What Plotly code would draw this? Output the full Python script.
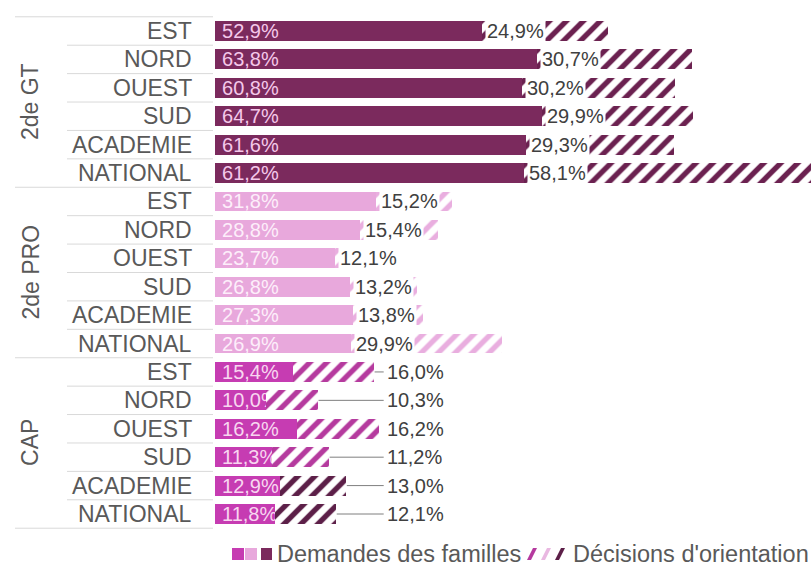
import plotly.graph_objects as go

# ---------------- data ----------------
groups = ["2de GT", "2de PRO", "CAP"]
names = ["EST", "NORD", "OUEST", "SUD", "ACADEMIE", "NATIONAL"]
demandes_gt = [52.9, 63.8, 60.8, 64.7, 61.6, 61.2]
decisions_gt = [24.9, 30.7, 30.2, 29.9, 29.3, 58.1]
demandes_pro = [31.8, 28.8, 23.7, 26.8, 27.3, 26.9]
decisions_pro = [15.2, 15.4, 12.1, 13.2, 13.8, 29.9]
demandes_cap = [15.4, 10.0, 16.2, 11.3, 12.9, 11.8]
decisions_cap = [16.0, 10.3, 16.2, 11.2, 13.0, 12.1]
legend_labels = ["Demandes des familles", "Décisions d'orientation"]

# ---------------- styling ----------------
W, H = 811, 577
ML, MR, MT, MB = 215, 0, 16, 48
PW, PH = W - ML - MR, H - MT - MB
XMAX = 118.0
FONT = "Liberation Sans, Arial, sans-serif"
GREY = "#595959"
LABEL_GREY = "#404040"
LINE = "#d9d9d9"

solid_col = {"2de GT": "#7b2a5d", "2de PRO": "#e8a8dc", "CAP": "#c63cb2"}
solid_txt = {"2de GT": "#f5c8ea", "2de PRO": "#fdeefa", "CAP": "#f8d6f0"}
hatch_gt = "#6b2150"
hatch_pro = "#e9aedf"
hatch_cap_a = "#b53a9e"
hatch_cap_b = "#5c1f48"

dem = {"2de GT": demandes_gt, "2de PRO": demandes_pro, "CAP": demandes_cap}
dec = {"2de GT": decisions_gt, "2de PRO": decisions_pro, "CAP": decisions_cap}

ycats, dvals, cvals, scol, stxt, hcol = [], [], [], [], [], []
for g in groups:
    for i, n in enumerate(names):
        ycats.append(f"{g}|{n}")
        dvals.append(dem[g][i])
        cvals.append(dec[g][i])
        scol.append(solid_col[g])
        stxt.append(solid_txt[g])
        if g == "2de GT":
            hcol.append(hatch_gt)
        elif g == "2de PRO":
            hcol.append(hatch_pro)
        else:
            hcol.append(hatch_cap_a if n not in ("ACADEMIE", "NATIONAL") else hatch_cap_b)


def fmt(v):
    return f"{v:.1f}%".replace(".", ",")


fig = go.Figure()
fig.add_trace(go.Bar(
    y=ycats, x=dvals, orientation="h", name=legend_labels[0],
    marker=dict(color=scol, line=dict(width=0)),
    text=["\u2009" + fmt(v) for v in dvals], textposition="inside", insidetextanchor="start",
    textangle=0, constraintext="none",
    textfont=dict(family=FONT, size=20, color=stxt),
    cliponaxis=False, hoverinfo="skip",
))
fig.add_trace(go.Bar(
    y=ycats, x=cvals, orientation="h", name=legend_labels[1],
    marker=dict(color="white", line=dict(width=0),
                pattern=dict(shape="/", fgcolor=hcol, bgcolor="white", fgopacity=1,
                             size=12, solidity=0.45, fillmode="replace")),
    hoverinfo="skip",
))

ann, shp = [], []


def px2paper_x(px):
    return (px - ML) / PW


def px2paper_y(py):
    return (H - MB - py) / PH


# value labels for the decisions
cap_totals = [d + c for d, c in zip(demandes_cap, decisions_cap)]
cap_lab_x = max(cap_totals) + 1.2
for k, yc in enumerate(ycats):
    g = yc.split("|")[0]
    if g in ("2de GT", "2de PRO"):
        ann.append(dict(x=dvals[k], y=yc, xref="x", yref="y", text=fmt(cvals[k]),
                        xanchor="left", yanchor="middle", xshift=3, showarrow=False,
                        bgcolor="white", borderpad=1,
                        font=dict(family=FONT, size=20, color=LABEL_GREY)))
    else:
        tot = dvals[k] + cvals[k]
        ann.append(dict(x=cap_lab_x, y=yc, xref="x", yref="y", text=fmt(cvals[k]),
                        xanchor="left", yanchor="middle", showarrow=False,
                        font=dict(family=FONT, size=20, color=LABEL_GREY)))
        if cap_lab_x - tot > 1.5:
            shp.append(dict(type="line", xref="x", yref="y", x0=tot + 0.2, x1=cap_lab_x - 0.2,
                            y0=k, y1=k, line=dict(color="#7f7f7f", width=1)))

# category labels
for k, yc in enumerate(ycats):
    n = yc.split("|")[1]
    ann.append(dict(x=px2paper_x(194), y=yc, xref="paper", yref="y", text=n,
                    xanchor="right", yanchor="middle", showarrow=False,
                    font=dict(family=FONT, size=23, color=GREY)))
# group labels
for gi, g in enumerate(groups):
    ann.append(dict(x=px2paper_x(30), y=gi * 6 + 2.5, xref="paper", yref="y", text=g,
                    textangle=-90, xanchor="center", yanchor="middle", showarrow=False,
                    font=dict(family=FONT, size=23, color=GREY)))

# separator lines
n_rows = len(ycats)
for b in range(n_rows + 1):
    y = b - 0.5
    x0 = px2paper_x(15) if b % 6 == 0 else px2paper_x(67)
    shp.append(dict(type="line", xref="paper", yref="y", x0=x0, x1=px2paper_x(213),
                    y0=y, y1=y, line=dict(color=LINE, width=1)))

# custom legend
ly = 554
for (a, b_, c) in [(232, 244, solid_col["CAP"]), (245, 257, solid_col["2de PRO"]),
                   (261, 272, solid_col["2de GT"])]:
    shp.append(dict(type="rect", xref="paper", yref="paper",
                    x0=px2paper_x(a), x1=px2paper_x(b_),
                    y0=px2paper_y(ly + 6), y1=px2paper_y(ly - 6),
                    fillcolor=c, line=dict(width=0)))
ann.append(dict(x=px2paper_x(275), y=px2paper_y(ly), xref="paper", yref="paper",
                text=legend_labels[0], xanchor="left", yanchor="middle", showarrow=False,
                font=dict(family=FONT, size=23.5, color=GREY)))
for xs, c in [(527, hatch_cap_a), (541, "#e9b8e1"), (555, hatch_cap_b)]:
    x0, x1 = px2paper_x(xs), px2paper_x(xs + 4)
    x2, x3 = px2paper_x(xs + 10), px2paper_x(xs + 6)
    yb, yt = px2paper_y(ly + 6), px2paper_y(ly - 6)
    shp.append(dict(type="path", xref="paper", yref="paper",
                    path=f"M {x0} {yb} L {x1} {yb} L {x2} {yt} L {x3} {yt} Z",
                    fillcolor=c, line=dict(width=0)))
ann.append(dict(x=px2paper_x(571), y=px2paper_y(ly), xref="paper", yref="paper",
                text=legend_labels[1], xanchor="left", yanchor="middle", showarrow=False,
                font=dict(family=FONT, size=23.5, color=GREY)))

fig.update_layout(
    width=W, height=H, barmode="stack", bargap=0.3,
    margin=dict(l=ML, r=MR, t=MT, b=MB),
    paper_bgcolor="white", plot_bgcolor="white",
    showlegend=False,
    xaxis=dict(range=[0, XMAX], visible=False, fixedrange=True),
    yaxis=dict(type="category", categoryorder="array", categoryarray=ycats,
               autorange="reversed", showticklabels=False, showgrid=False,
               zeroline=False, showline=False, ticks="", fixedrange=True),
    annotations=ann, shapes=shp,
    font=dict(family=FONT),
)

fig.write_html("out.html", config={"displayModeBar": False, "staticPlot": True},
               post_script="document.body.style.margin='0';document.body.style.overflow='hidden';")
